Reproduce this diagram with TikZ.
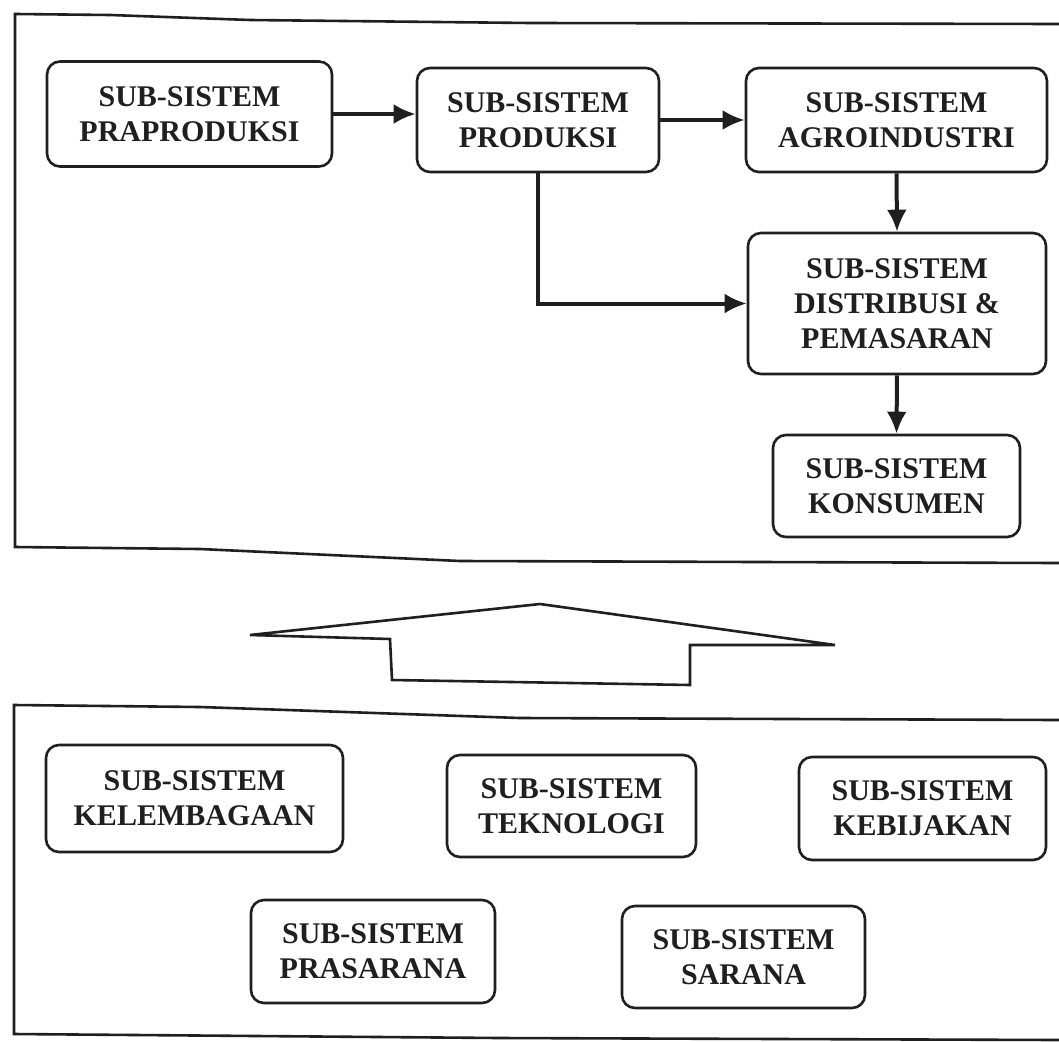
\documentclass[tikz,border=0pt]{standalone}
\usepackage{fontspec}
\setmainfont{Liberation Serif}
\usetikzlibrary{arrows.meta}
\definecolor{ink}{gray}{0.12}
\begin{document}
\begin{tikzpicture}[x=1pt,y=-1pt,
  sub/.style={draw=ink, line width=2.6pt, rounded corners=13pt, inner sep=0pt,
    align=center, text=ink, font=\fontsize{30}{35}\selectfont\bfseries},
  arr/.style={draw=ink, line width=4pt, -{Latex[length=22pt,width=20pt]}},
  frame/.style={draw=ink, line width=2.6pt},
  bigarrow/.style={draw=ink, line width=2.6pt, line join=miter}]
\useasboundingbox (0,0) rectangle (1059,1041);
\fill[white] (0,0) rectangle (1059,1041);
% frames
\draw[frame] (1059,24) -- (530,23) -- (250,20) -- (110,15) -- (15,14) -- (15,547) -- (200,549) -- (460,561) -- (1059,563);
\draw[frame] (1059,720) -- (520,718) -- (200,707) -- (14,705) -- (14,1034) -- (500,1038) -- (1059,1040);
% top nodes
\node[sub, minimum width=285pt, minimum height=105pt] (prapro) at (189.5,114) {SUB-SISTEM\\PRAPRODUKSI};
\node[sub, minimum width=242pt, minimum height=104pt] (produksi) at (538,120) {SUB-SISTEM\\PRODUKSI};
\node[sub, minimum width=301pt, minimum height=104pt] (agro) at (896.5,120) {SUB-SISTEM\\AGROINDUSTRI};
\node[sub, minimum width=298pt, minimum height=141pt] (distrib) at (897,303.5) {SUB-SISTEM\\DISTRIBUSI \&\\PEMASARAN};
\node[sub, minimum width=247pt, minimum height=102pt] (konsumen) at (896.5,486) {SUB-SISTEM\\KONSUMEN};
% connectors
\draw[arr] (prapro.east) -- (prapro.east -| produksi.west);
\draw[arr] (produksi.east) -- (agro.west);
\draw[arr] (agro.south) -- (distrib.north);
\draw[arr] (distrib.south) -- (konsumen.north);
\draw[arr, line join=miter] (produksi.south) |- (distrib.west);
% big up arrow
\draw[bigarrow] (250,635) -- (540,604) -- (835,645) -- (690,645) -- (690,685) -- (392,680) -- (390,639) -- cycle;
% bottom nodes
\node[sub, minimum width=297pt, minimum height=107pt] (kelembagaan) at (194.5,798.5) {SUB-SISTEM\\KELEMBAGAAN};
\node[sub, minimum width=249pt, minimum height=102pt] (teknologi) at (571.5,806) {SUB-SISTEM\\TEKNOLOGI};
\node[sub, minimum width=247pt, minimum height=103pt] (kebijakan) at (922.5,808.5) {SUB-SISTEM\\KEBIJAKAN};
\node[sub, minimum width=244pt, minimum height=103pt] (prasarana) at (373,951.5) {SUB-SISTEM\\PRASARANA};
\node[sub, minimum width=243pt, minimum height=102pt] (sarana) at (743.5,957) {SUB-SISTEM\\SARANA};
\end{tikzpicture}
\end{document}
